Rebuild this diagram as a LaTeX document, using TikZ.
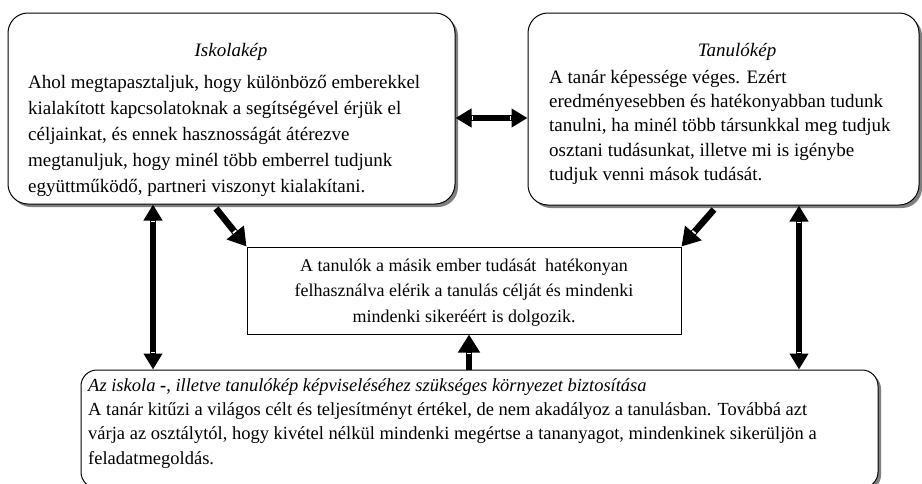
\documentclass[tikz,border=0pt]{standalone}
\usepackage{fontspec}
\setmainfont{Liberation Serif}
\usetikzlibrary{arrows.meta,shadows,calc,decorations.markings}
\begin{document}
\begin{tikzpicture}[x=1pt,y=-1pt,
  rbox/.style={draw=black, line width=1pt, fill=white, rounded corners=#1, inner sep=0pt,
    drop shadow={shadow xshift=3pt, shadow yshift=-3pt, fill=black!50, opacity=1}},
  sbox/.style={draw=black, line width=1pt, fill=white, inner sep=0pt},
  ttl/.style={anchor=base, inner sep=0pt, font=\fontsize{19}{26}\selectfont\itshape},
  body/.style={anchor=north west, inner sep=0pt, align=left},
  wmark/.style={decoration={markings, mark=at position #1 with {\fill[white] (-0.8,-2.2) rectangle (0.8,2.2);}}},
  dblarrow/.style={line width=6pt, {Triangle[width=18pt,length=16pt]}-{Triangle[width=18pt,length=16pt]},
    postaction={decorate, wmark=17pt}, postaction={decorate, wmark=-17pt}},
  onearrow/.style={line width=6.5pt, -{Triangle[width=21pt,length=18pt]},
    postaction={decorate, wmark=-19pt}},
]
\useasboundingbox (0,0) rectangle (922,483);
\fill[white] (0,0) rectangle (922,483);

% boxes
\node[rbox=20pt, minimum width=447pt, minimum height=191pt] (isk) at (231.5,108.5) {};
\node[rbox=20pt, minimum width=391pt, minimum height=192pt] (tan) at (723.5,109) {};
\node[sbox, minimum width=434pt, minimum height=87pt] (mid) at (464,290.5) {};
\node[rbox=16pt, minimum width=797pt, minimum height=118pt] (bot) at (479.5,429) {};

% texts
\node[ttl] (iskt) at (231,56) {Iskolakép};
\node[body, font=\fontsize{19}{26}\selectfont] (iskb) at (28,69.8) {\strut Ahol megtapasztaljuk, hogy különböző emberekkel\\
kialakított kapcsolatoknak a segítségével érjük el\\
céljainkat, és ennek hasznosságát átérezve\\
megtanuljuk, hogy minél több emberrel tudjunk\\
együttműködő, partneri viszonyt kialakítani.};

\node[ttl] (tant) at (737,56) {Tanulókép};
\node[body, font=\fontsize{19}{24.3}\selectfont] (tanb) at (549,66) {\strut A tanár képessége véges. Ezért\\
eredményesebben és hatékonyabban tudunk\\
tanulni, ha minél több társunkkal meg tudjuk\\
osztani tudásunkat, illetve mi is igénybe\\
tudjuk venni mások tudását.};

\node[anchor=north, inner sep=0pt, align=center, font=\fontsize{18}{25.5}\selectfont] (midt) at (464,253) {\strut A tanulók a másik ember tudását\hspace{4pt} hatékonyan\\
felhasználva elérik a tanulás célját és mindenki\\
mindenki sikeréért is dolgozik.};

\node[body, font=\fontsize{18.5}{24.3}\selectfont] (bott) at (88,374) {\strut\textit{Az iskola} \textbf{-}, \textit{illetve tanulókép képviseléséhez szükséges környezet biztosítása}\\
A tanár kitűzi a világos célt és teljesítményt értékel, de nem akadályoz a tanulásban. Továbbá azt\\
várja az osztálytól, hogy kivétel nélkül mindenki megértse a tananyagot, mindenkinek sikerüljön a\\
feladatmegoldás.};

% connectors
\draw[dblarrow] (isk.east |- 0,118) -- (tan.west |- 0,118);
\draw[dblarrow] (isk.south -| 153,0) -- (bot.north -| 153,0);
\draw[dblarrow] (tan.south -| 799,0) -- (bot.north -| 799,0);
\draw[onearrow] ($(isk.south -| 216,0)+(0,4)$) -- (mid.north west);
\draw[onearrow] ($(tan.south -| 714,0)+(0,4)$) -- (mid.north east);
\draw[onearrow] (bot.north -| 469,0) -- (mid.south -| 469,0);
\end{tikzpicture}
\end{document}
